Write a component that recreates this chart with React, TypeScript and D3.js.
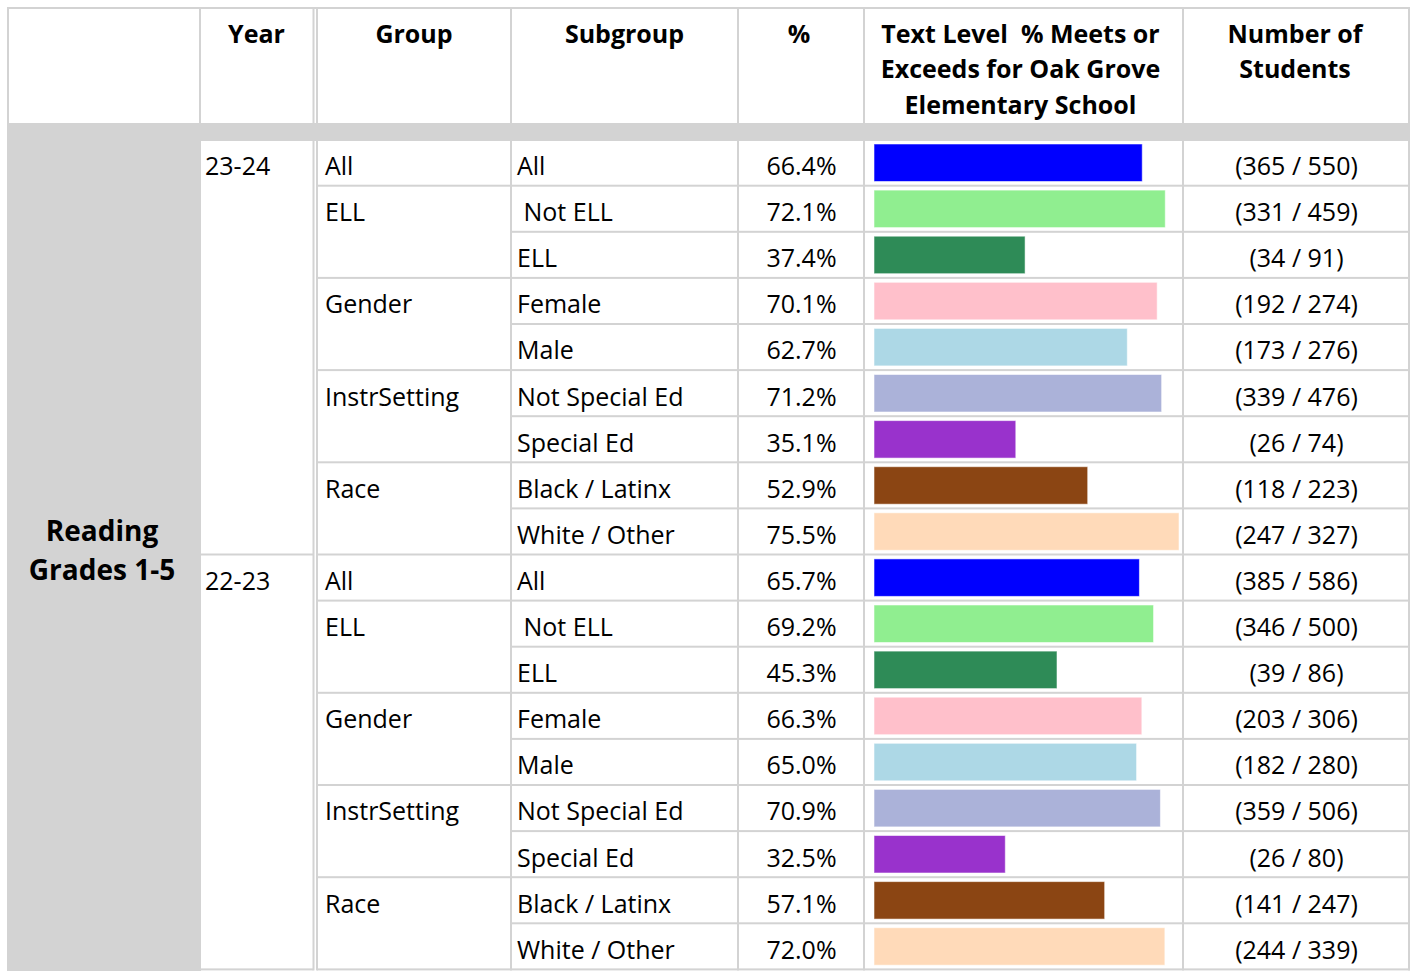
import React from "react";
import * as d3 from "d3";

const years = ["23-24", "22-23"];
const groupNames = ["All", "ELL", "Gender", "InstrSetting", "Race"];
const groupSpans = [1, 2, 2, 2, 2];
const subgroups = ["All", " Not ELL", "ELL", "Female", "Male", "Not Special Ed", "Special Ed", "Black / Latinx", "White / Other"];
const barColors = ["#0000ff", "#90ee90", "#2e8b57", "#ffc0cb", "#add8e6", "#abb2d9", "#9932cc", "#8b4513", "#ffdab9"];

const pct2324 = [66.4, 72.1, 37.4, 70.1, 62.7, 71.2, 35.1, 52.9, 75.5];
const met2324 = [365, 331, 34, 192, 173, 339, 26, 118, 247];
const total2324 = [550, 459, 91, 274, 276, 476, 74, 223, 327];

const pct2223 = [65.7, 69.2, 45.3, 66.3, 65.0, 70.9, 32.5, 57.1, 72.0];
const met2223 = [385, 346, 39, 203, 182, 359, 26, 141, 244];
const total2223 = [586, 500, 86, 306, 280, 506, 80, 247, 339];

const headers = ["Year", "Group", "Subgroup", "%"];
const barHeaderLines = ["Text Level  % Meets or", "Exceeds for Oak Grove", "Elementary School"];
const countHeaderLines = ["Number of", "Students"];
const sectionLines = ["Reading", "Grades 1-5"];

const pcts = [pct2324, pct2223];
const mets = [met2324, met2223];
const totals = [total2324, total2223];

type Row = { year: number; idx: number; sub: string; pct: number; met: number; total: number; color: string };
const rows: Row[] = [];
years.forEach((_, yi) => {
  subgroups.forEach((s, i) => {
    rows.push({ year: yi, idx: i, sub: s, pct: pcts[yi][i], met: mets[yi][i], total: totals[yi][i], color: barColors[i] });
  });
});

const LINE = "#d3d3d3";
const FONT = "'Open Sans', 'Noto Sans', sans-serif";

export default function App() {
  const W = 1410, H = 972;
  const top = 139.6;
  const rowH = 46.1;
  const yBand = d3.scaleBand<number>().domain(d3.range(rows.length)).range([top, top + rowH * rows.length]);
  const x = d3.scaleLinear().domain([0, 75.5]).range([874, 1179]);

  const colLines = [8, 200, 313.5, 317, 511, 738, 864, 1183, 1409];
  const dataColLines = [313.5, 317, 511, 738, 864, 1183, 1409];

  // group boundaries (row indices after which a group line occurs)
  const groupEnds: number[] = [];
  years.forEach((_, yi) => {
    let acc = yi * subgroups.length;
    groupSpans.forEach((s) => {
      acc += s;
      groupEnds.push(acc);
    });
  });
  const groupStarts: { row: number; name: string }[] = [];
  years.forEach((_, yi) => {
    let acc = yi * subgroups.length;
    groupSpans.forEach((s, gi) => {
      groupStarts.push({ row: acc, name: groupNames[gi] });
      acc += s;
    });
  });

  const baseline = (i: number) => (yBand(i) as number) + 35.4;
  const fs = 25;

  return (
    <div style={{ position: "absolute", left: 0, top: 0, width: W, height: H, background: "#fff" }}>
      <svg width={W} height={H} style={{ display: "block" }} fontFamily={FONT}>
        <rect x={0} y={0} width={W} height={H} fill="#fff" />
        {/* header top border */}
        <rect x={7} y={7} width={W - 7} height={2} fill={LINE} />
        {/* header vertical lines */}
        {colLines.map((cx, i) => (
          <rect key={"hv" + i} x={cx - 1} y={7} width={2} height={116} fill={LINE} />
        ))}
        {/* gray band */}
        <rect x={7} y={123} width={W - 7} height={18} fill={LINE} />
        {/* section cell */}
        <rect x={7} y={123} width={194} height={H - 123 - 1} fill={LINE} />

        {/* data vertical lines */}
        {dataColLines.map((cx, i) => (
          <rect key={"dv" + i} x={cx - 1} y={141} width={2} height={yBand.range()[1] - 141 + 1} fill={LINE} />
        ))}
        {/* horizontal lines */}
        {rows.map((_, i) => {
          const k = i + 1;
          const ly = top + rowH * k;
          const els = [<rect key={"h" + i} x={511} y={ly - 1} width={W - 511} height={2} fill={LINE} />];
          if (groupEnds.includes(k)) els.push(<rect key={"hg" + i} x={317} y={ly - 1} width={194} height={2} fill={LINE} />);
          if (k % subgroups.length === 0) els.push(<rect key={"hy" + i} x={200} y={ly - 1} width={113.5} height={2} fill={LINE} />);
          return els;
        })}

        {/* headers */}
        <g fontWeight="bold" fontSize={fs} fill="#000" textAnchor="middle">
          <text x={256.5} y={42.5}>{headers[0]}</text>
          <text x={414} y={42.5}>{headers[1]}</text>
          <text x={624.5} y={42.5}>{headers[2]}</text>
          <text x={799} y={42.5}>{headers[3]}</text>
          {barHeaderLines.map((t, i) => (
            <text key={"bh" + i} x={1020.5} y={42.5 + i * 35.5} style={{ whiteSpace: "pre" }}>{t}</text>
          ))}
          {countHeaderLines.map((t, i) => (
            <text key={"ch" + i} x={1295} y={42.5 + i * 35.5}>{t}</text>
          ))}
        </g>

        {/* section label */}
        <g fontWeight="bold" fontSize={28} fill="#000" textAnchor="middle">
          {sectionLines.map((t, i) => (
            <text key={"s" + i} x={102} y={541 + i * 39}>{t}</text>
          ))}
        </g>

        {/* years */}
        <g fontSize={fs} fill="#000">
          {years.map((yv, yi) => (
            <text key={"y" + yi} x={205} y={baseline(yi * subgroups.length)}>{yv}</text>
          ))}
          {groupStarts.map((g, i) => (
            <text key={"g" + i} x={325} y={baseline(g.row)}>{g.name}</text>
          ))}
          {rows.map((r, i) => (
            <text key={"sg" + i} x={517} y={baseline(i)} style={{ whiteSpace: "pre" }}>{r.sub}</text>
          ))}
          {rows.map((r, i) => (
            <text key={"p" + i} x={801.5} y={baseline(i)} textAnchor="middle">{r.pct.toFixed(1) + "%"}</text>
          ))}
          {rows.map((r, i) => (
            <text key={"n" + i} x={1296.5} y={baseline(i)} textAnchor="middle">{`(${r.met} / ${r.total})`}</text>
          ))}
        </g>

        {/* bars */}
        {rows.map((r, i) => (
          <rect
            key={"b" + i}
            x={x(0)}
            y={(yBand(i) as number) + 4.4}
            width={x(r.pct) - x(0)}
            height={37.5}
            fill={r.color}
            stroke="rgba(255,255,255,0.55)"
            strokeWidth={1}
          />
        ))}
      </svg>
    </div>
  );
}
